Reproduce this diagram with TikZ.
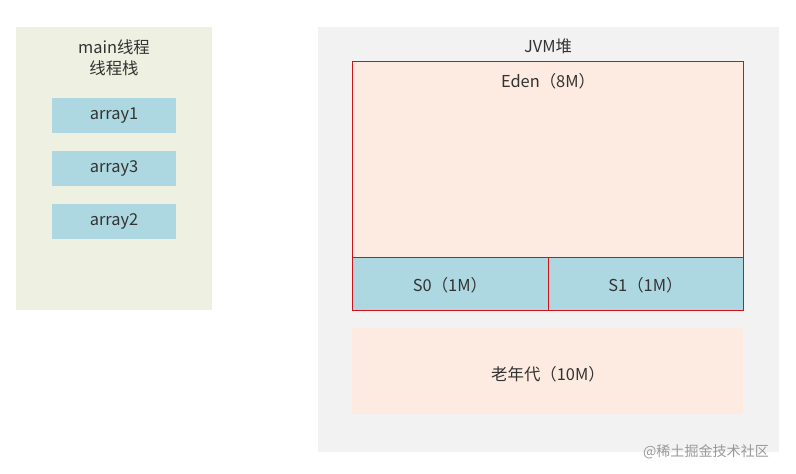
\documentclass[tikz,border=0pt]{standalone}
\usepackage{fontspec}
\setmainfont{Noto Sans CJK SC}
\definecolor{stackbg}{HTML}{EEF1E1}
\definecolor{heapbg}{HTML}{F2F2F2}
\definecolor{cellblue}{HTML}{ADD8E1}
\definecolor{edenbg}{HTML}{FDEAE0}
\definecolor{edgered}{HTML}{D0121B}
\tikzset{
  cell/.style={fill=cellblue, draw=none, minimum width=124*0.03cm, minimum height=35*0.03cm},
  lbl/.style={font=\fontsize{14}{17}\selectfont, text=black!80, align=center}
}
\begin{document}
\begin{tikzpicture}[x=0.03cm, y=-0.03cm]
            \useasboundingbox (0,0) rectangle (796,473);
            % thread stack
            \fill[stackbg] (16,27) rectangle (212,310);
            \node[lbl] (stk) at (114,58) {main线程\\[1pt]线程栈};
            \node[cell, lbl] (a1) at (114,115.5) {array1};
            \node[cell, lbl] (a3) at (114,168.5) {array3};
            \node[cell, lbl] (a2) at (114,221.5) {array2};
            % heap
            \fill[heapbg] (318,27) rectangle (779,452);
            \node[lbl] (heap) at (548,46) {JVM堆};
            \draw[edgered, fill=edenbg] (352,61) rectangle (743,257);
            \node[lbl] (eden) at (548,81) {Eden（8M）};
            \draw[edgered, fill=cellblue] (352,257) rectangle (548,310);
            \draw[edgered, fill=cellblue] (548,257) rectangle (743,310);
            \node[lbl] (s0) at (450,285) {S0（1M）};
            \node[lbl] (s1) at (645.5,285) {S1（1M）};
            \fill[edenbg] (352,328) rectangle (743,414);
            \node[lbl] (old) at (548,374.5) {老年代（10M）};
            \node[font=\fontsize{12}{14}\selectfont, text=black!40] (wm) at (706,452) {@稀土掘金技术社区};
\end{tikzpicture}
\end{document}
